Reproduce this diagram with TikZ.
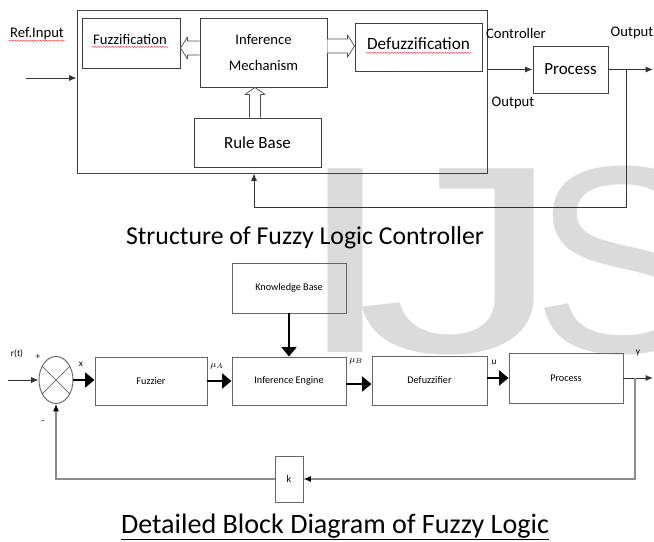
\documentclass[tikz,border=0pt]{standalone}
\usepackage{fontspec}
\setmainfont{Carlito}
\newfontfamily\wmfont{Liberation Sans}
\usetikzlibrary{arrows.meta, positioning, calc, shapes.geometric, decorations.pathmorphing}

\begin{document}
\begin{tikzpicture}[
  x=0.3mm, y=-0.3mm,
  font=\fontsize{12.5}{15}\selectfont,
  wm/.style={font=\wmfont\fontsize{228}{228}\selectfont, text=black!14, anchor=base, inner sep=0pt},
  box/.style={rectangle, draw=black!75, line width=0.8pt, inner sep=1pt, align=center},
  smallbox/.style={rectangle, draw=black!60, line width=0.8pt, inner sep=1pt, align=center,
                   font=\fontsize{8.7}{10}\selectfont},
  lbl/.style={inner sep=1pt},
  tiny/.style={inner sep=1pt, font=\fontsize{8}{9}\selectfont},
  wave/.style={draw=red!85, line width=0.35pt, decorate,
               decoration={snake, amplitude=0.45pt, segment length=2.4pt}},
  sig/.style={draw=black!80, line width=0.8pt, -{Latex[length=2.2mm,width=1.8mm]}},
  hollowarr/.style={draw=black!70, line width=0.6pt, fill=white, line join=round},
  thickarr/.style={draw=black, line width=2.4pt, -{Triangle[length=2.8mm,width=4.4mm]}},
  fb/.style={draw=black!45, line width=1pt, -{Latex[length=2.2mm,width=1.8mm,color=black]}},
]
\useasboundingbox (0,0) rectangle (654,541);

% ---- watermark ----
\node[wm] (wmI) at (345.5,352) {\scalebox{1.4}[1]{I}};
\node[wm] (wmJ) at (460,352) {\scalebox{1.57}[1]{J}};
\node[wm] (wmS) at (622,352) {S};

% ---- Structure of fuzzy logic controller ----
\node[box, minimum width=123mm, minimum height=48.9mm] (ctrl) at (282,91.5) {};
\node[box, minimum width=29.4mm, minimum height=15mm] (fuzz) at (131,43) {};
\node[lbl] (fuzztxt) at (130,39) {Fuzzification};
\node[box, minimum width=38.1mm, minimum height=20.7mm, font=\fontsize{12.5}{22}\selectfont] (infer) at (263.5,52.5) {Inference\\Mechanism};
\node[box, minimum width=38.1mm, minimum height=14.4mm] (defuzz) at (418.5,47) {};
\node[lbl, font=\fontsize{14.7}{17}\selectfont] (defuzztxt) at (418.5,44) {Defuzzification};
\node[box, minimum width=38.1mm, minimum height=14.7mm, font=\fontsize{14.5}{17}\selectfont] (rule) at (257.5,142.5) {Rule Base};
\node[box, minimum width=22.5mm, minimum height=14.1mm, font=\fontsize{14.5}{17}\selectfont] (proc) at (570.5,69.5) {Process};

\node[lbl] (refin) at (37,34) {Ref.Input};
\node[lbl] (ctrlout) at (516,33) {Controller};
\node[lbl] (ctrlout2) at (513,103) {Output};
\node[lbl] (procout) at (632,33) {Output};

% spell-check marks
\draw[wave] ([yshift=-2.5pt]refin.base west) -- ([yshift=-2.5pt]refin.base east);
\draw[wave] ([yshift=-2.5pt]fuzztxt.base west) -- ([yshift=-2.5pt]fuzztxt.base east);
\draw[wave] ([yshift=-2.5pt]defuzztxt.base west) -- ([yshift=-2.5pt]defuzztxt.base east);

% hollow arrows
\coordinate (hl) at ([yshift=1.35mm]infer.west);
\coordinate (hlt) at (hl -| fuzz.east);
\coordinate (hr) at ([yshift=1.95mm]infer.east);
\coordinate (hrt) at (hr -| defuzz.west);
\coordinate (hu) at ([xshift=-0.75mm]rule.north);
\coordinate (hut) at (hu |- infer.south);
\draw[hollowarr] ($(hl)+(0,-7)$) -- ($(hlt)+(7,-7)$) -- ($(hlt)+(7,-11)$) -- (hlt)
  -- ($(hlt)+(7,11)$) -- ($(hlt)+(7,7)$) -- ($(hl)+(0,7)$);
\draw[hollowarr] ($(hr)+(0,-7)$) -- ($(hrt)+(-7,-7)$) -- ($(hrt)+(-7,-11)$) -- (hrt)
  -- ($(hrt)+(-7,11)$) -- ($(hrt)+(-7,7)$) -- ($(hr)+(0,7)$);
\draw[hollowarr] ($(hu)+(-5.5,0)$) -- ($(hut)+(-5.5,7)$) -- ($(hut)+(-10,7)$) -- (hut)
  -- ($(hut)+(10,7)$) -- ($(hut)+(5.5,7)$) -- ($(hu)+(5.5,0)$);

\coordinate (inp) at (26,78);
\coordinate (yend) at (653,69.5);
\coordinate (tap) at (626,69.5);
\coordinate (fbturn) at (254,207);
\draw[sig] (inp) -- (inp -| ctrl.west);
\draw[sig] (ctrl.east |- proc) -- (proc.west);
\draw[sig] (proc.east) -- (yend);
\draw[sig] (tap) |- (fbturn) -- (fbturn |- ctrl.south);

\node[font=\fontsize{22}{26}\selectfont] (title1) at (305,238) {Structure of Fuzzy Logic Controller};

% ---- Detailed block diagram ----
\node[smallbox, minimum width=34.2mm, minimum height=15mm] (kb) at (289,288) {Knowledge Base};
\node[smallbox, minimum width=34.2mm, minimum height=14.4mm] (ie) at (289,381) {Inference Engine};
\node[smallbox, minimum width=33.6mm, minimum height=14.4mm] (fuzzier) at (151,381) {Fuzzier};
\node[smallbox, minimum width=34.5mm, minimum height=14.7mm] (defz) at (429.5,380.5) {Defuzzifier};
\node[smallbox, minimum width=34.2mm, minimum height=15mm] (proc2) at (566,378) {Process};
\node[smallbox, minimum width=8.4mm, minimum height=13.8mm] (gain) at (289,479) {k};
\node[ellipse, draw=black!60, line width=0.8pt, minimum width=10.2mm, minimum height=14.1mm] (sum) at (56,380) {};
\draw[black!60, line width=0.6pt] (sum.45) -- (sum.225);
\draw[black!60, line width=0.6pt] (sum.135) -- (sum.315);

\node[tiny] (lr) at (17,354) {r(t)};
\node[tiny] (lplus) at (38,357) {+};
\node[tiny] (lminus) at (43,422) {-};
\node[tiny] (lx) at (81,364) {x};
\node[tiny] (lmuA) at (217,366) {$\mu_A$};
\node[tiny] (lmuB) at (356,361) {$\mu_B$};
\node[tiny] (lu) at (494,362) {u};
\node[tiny] (ly) at (638,353) {y};

\coordinate (rin) at (8,380);
\coordinate (a3) at ([yshift=-0.9mm]ie.east);
\coordinate (yout) at (653,378);
\coordinate (tap2) at (635,378);
\draw[sig] (rin) -- (sum.west);
\draw[thickarr] (sum.east) -- (sum.east -| fuzzier.west);
\draw[thickarr] (fuzzier) -- (ie);
\draw[thickarr] (kb) -- (ie);
\draw[thickarr] (a3) -- (a3 -| defz.west);
\draw[thickarr] (defz.east |- proc2.west) -- (proc2.west);
\draw[sig] (proc2.east) -- (yout);
\draw[fb] (tap2) |- (gain.east);
\draw[fb] (gain.west) -| (sum.south);

\node[font=\fontsize{24}{28}\selectfont] (title2) at (335,527) {\underline{Detailed Block Diagram of Fuzzy Logic}};

\end{tikzpicture}
\end{document}
